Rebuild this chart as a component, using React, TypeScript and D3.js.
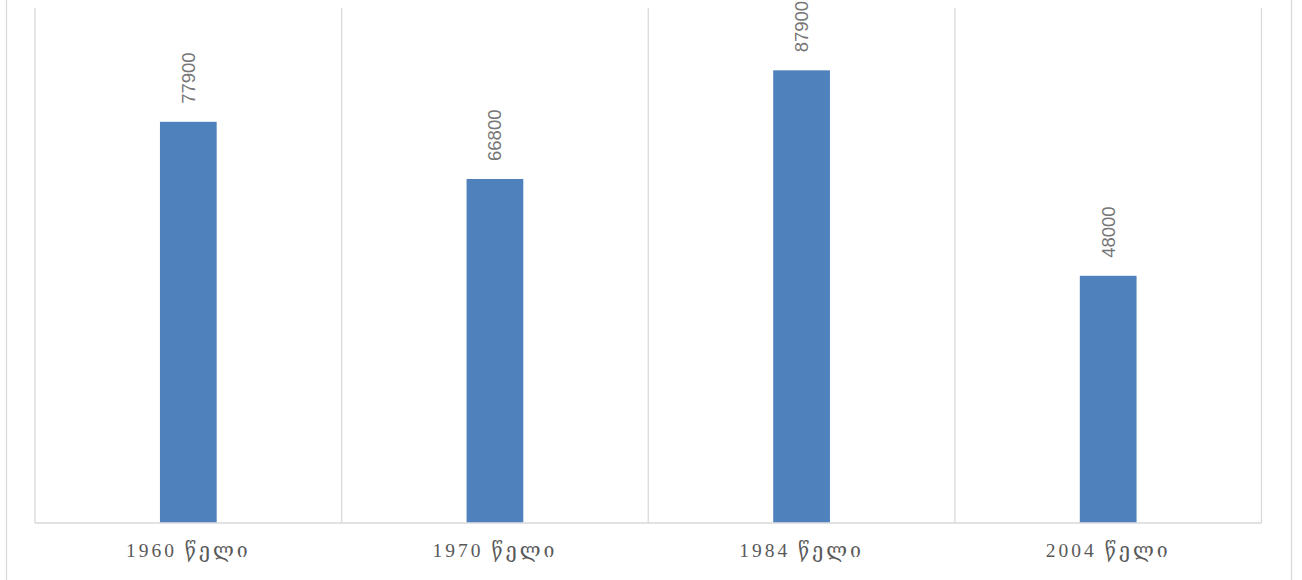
import React from "react";
import * as d3 from "d3";

const categories = ["1960 წელი", "1970 წელი", "1984 წელი", "2004 წელი"];
const values = [77900, 66800, 87900, 48000];
const yMax = 100000;

const W = 1302;
const H = 580;
const plot = { left: 35, right: 1261.5, top: 8, bottom: 523 };

export default function App() {
  const x = d3
    .scaleBand<string>()
    .domain(categories)
    .range([plot.left, plot.right])
    .paddingInner(0)
    .paddingOuter(0);
  const y = d3.scaleLinear().domain([0, yMax]).range([plot.bottom, plot.top]);
  const barW = x.bandwidth() * 0.185;
  const grid = "#d9d9d9";
  const bounds = [...categories.map((c) => x(c) as number), plot.right];

  return (
    <svg
      width={W}
      height={H}
      style={{ position: "absolute", left: 0, top: 0, background: "#fff" }}
    >
      {/* outer chart frame */}
      <line x1={6.5} x2={6.5} y1={0} y2={H} stroke={grid} strokeWidth={1.3} />
      <line x1={1291.5} x2={1291.5} y1={0} y2={H} stroke={grid} strokeWidth={1.3} />
      {/* vertical gridlines at category boundaries */}
      {bounds.map((b, i) => (
        <line
          key={i}
          x1={b}
          x2={b}
          y1={plot.top}
          y2={plot.bottom}
          stroke={grid}
          strokeWidth={1.3}
        />
      ))}
      {/* baseline */}
      <line
        x1={plot.left}
        x2={plot.right}
        y1={plot.bottom}
        y2={plot.bottom}
        stroke={grid}
        strokeWidth={1.5}
      />
      {categories.map((c, i) => {
        const cx = (x(c) as number) + x.bandwidth() / 2;
        const top = y(values[i]);
        return (
          <g key={c}>
            <rect
              x={cx - barW / 2}
              y={top}
              width={barW}
              height={plot.bottom - top - 0.75}
              fill="#4f81bd"
            />
            <text
              transform={`translate(${cx},${top - 18}) rotate(-90)`}
              textAnchor="start"
              dominantBaseline="central"
              fontFamily="'Liberation Sans', Arial, sans-serif"
              fontSize={18.5}
              fill="#767676"
            >
              {values[i]}
            </text>
            <text
              x={cx}
              y={557}
              textAnchor="middle"
              fontFamily="'Liberation Serif', 'DejaVu Serif', serif"
              fontSize={19.5}
              letterSpacing={3}
              fill="#595959"
            >
              {c}
            </text>
          </g>
        );
      })}
    </svg>
  );
}
